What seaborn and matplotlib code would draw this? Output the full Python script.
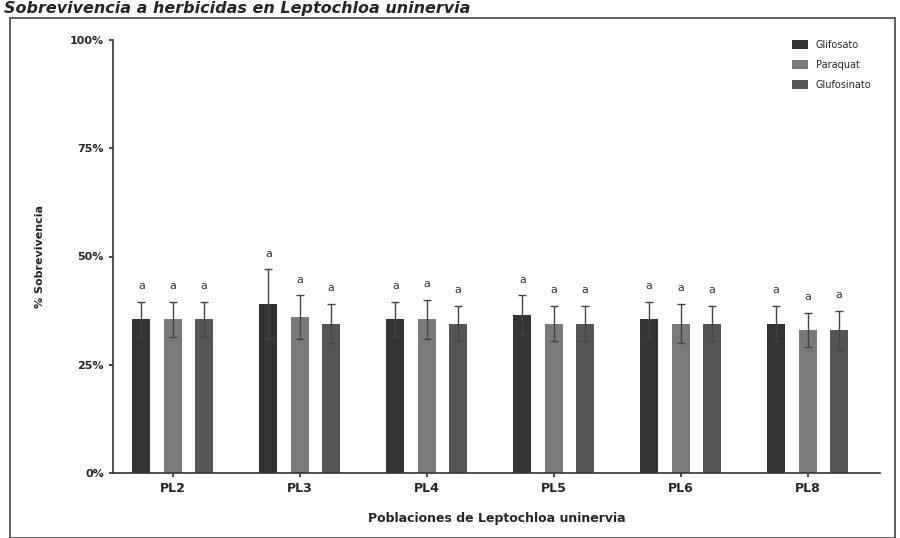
import matplotlib
matplotlib.use("Agg")
import matplotlib.pyplot as plt
import seaborn as sns
import pandas as pd
import numpy as np
from matplotlib.patches import Rectangle

poblaciones = ["PL2", "PL3", "PL4", "PL5", "PL6", "PL8"]
tratamientos = ["Glifosato", "Paraquat", "Glufosinato"]
glifosato = [35.5, 39.0, 35.5, 36.5, 35.5, 34.5]
paraquat = [35.5, 36.0, 35.5, 34.5, 34.5, 33.0]
glufosinato = [35.5, 34.5, 34.5, 34.5, 34.5, 33.0]
err_glifosato = [4.0, 8.0, 4.0, 4.5, 4.0, 4.0]
err_paraquat = [4.0, 5.0, 4.5, 4.0, 4.5, 4.0]
err_glufosinato = [4.0, 4.5, 4.0, 4.0, 4.0, 4.5]
letras = ["a"] * 18
colores = ["#333333", "#7a7a7a", "#555555"]

df = pd.DataFrame({
    "Poblacion": poblaciones * 3,
    "Tratamiento": [t for t in tratamientos for _ in poblaciones],
    "Valor": glifosato + paraquat + glufosinato,
    "Err": err_glifosato + err_paraquat + err_glufosinato,
})

sns.set_theme(style="white")
plt.rcParams["font.family"] = ["DejaVu Sans"]

fig = plt.figure(figsize=(9, 5.38), dpi=100)
ax = fig.add_axes([113/900, 1 - 473/538, (880-113)/900, (473-40)/538])

sns.barplot(data=df, x="Poblacion", y="Valor", hue="Tratamiento",
            palette=colores, width=0.74, gap=0.42, errorbar=None, ax=ax,
            saturation=1, edgecolor="none")

for t_i, t in enumerate(tratamientos):
    cont = ax.containers[t_i]
    sub = df[df["Tratamiento"] == t].reset_index(drop=True)
    for b_i, bar in enumerate(cont):
        cx = bar.get_x() + bar.get_width() / 2
        h = bar.get_height()
        e = sub.loc[b_i, "Err"]
        ax.errorbar(cx, h, yerr=e, color="#444444", capsize=3, lw=1, capthick=1)
        ax.text(cx, h + e + 2.5, letras[t_i * 6 + b_i], ha="center", va="bottom",
                fontsize=8, color="#333333")

ax.set_ylim(0, 100)
ax.set_xlim(-0.47, 5.57)
ax.set_yticks([0, 25, 50, 75, 100])
ax.set_yticklabels(["0%", "25%", "50%", "75%", "100%"], fontsize=8, fontweight="bold")
ax.set_xticks(range(len(poblaciones)))
ax.set_xticklabels(poblaciones, fontsize=9, fontweight="bold")
ax.tick_params(axis="both", length=3, color="#333333", direction="out", bottom=True, left=True)
ax.set_ylabel("% Sobrevivencia", fontsize=8, fontweight="bold", labelpad=18)
ax.set_xlabel("Poblaciones de Leptochloa uninervia", fontsize=9, fontweight="bold", labelpad=12)
for s in ["top", "right"]:
    ax.spines[s].set_visible(False)
for s in ["left", "bottom"]:
    ax.spines[s].set_color("#333333")
    ax.spines[s].set_linewidth(1.2)

leg = ax.legend(loc="upper right", bbox_to_anchor=(1.0, 1.02), frameon=False, fontsize=7,
                handlelength=1.6, handleheight=1.0, labelspacing=1.0)

fig.text(0.005, 0.999, "Sobrevivencia a herbicidas en Leptochloa uninervia",
         fontsize=11.5, fontweight="bold", style="italic", ha="left", va="top")
fig.patches.append(Rectangle((10/900, 0), 885/900, 1 - 18/538, transform=fig.transFigure,
                             fill=False, edgecolor="#444444", lw=1.2))

fig.savefig("out.png", dpi=100)
